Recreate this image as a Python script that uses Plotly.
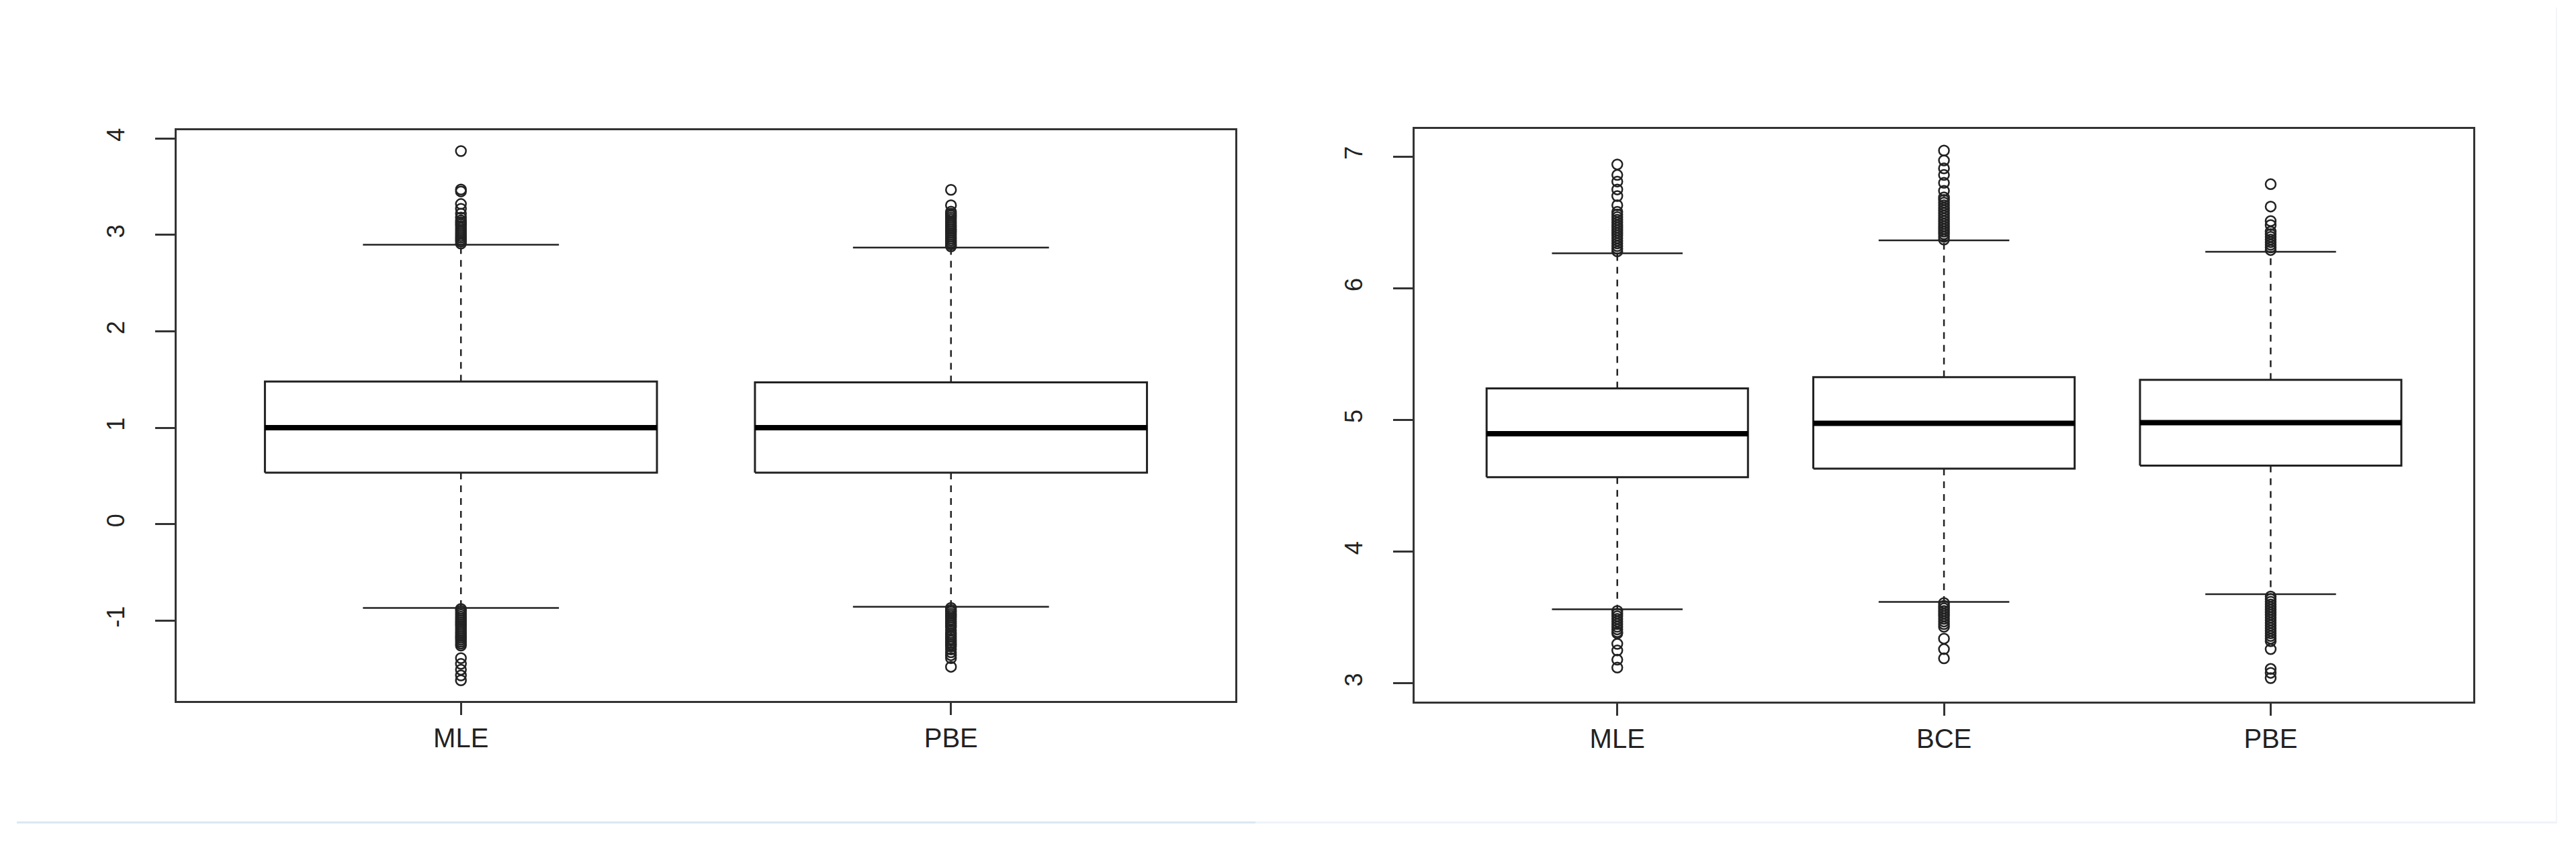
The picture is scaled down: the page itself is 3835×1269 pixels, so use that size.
import plotly.graph_objects as go

# left panel: two estimators
left_cats = ["MLE", "PBE"]
left_q1 = [0.533, 0.533]
left_med = [1.0, 1.0]
left_q3 = [1.479, 1.470]
left_lo = [-0.870, -0.858]
left_hi = [2.898, 2.868]
left_out = [
    [3.869, 3.47, 3.45, 3.32, 3.27, 3.22, 3.18, 3.15, 3.13, 3.11, 3.09, 3.07, 3.05,
     3.03, 3.01, 2.99, 2.97, 2.95, 2.93, 2.91,
     -0.88, -0.90, -0.92, -0.94, -0.96, -0.98, -1.00, -1.02, -1.04, -1.06, -1.08,
     -1.10, -1.12, -1.14, -1.16, -1.18, -1.20, -1.22, -1.24, -1.26,
     -1.39, -1.45, -1.51, -1.57, -1.62],
    [3.467, 3.307, 3.24, 3.22, 3.20, 3.18, 3.16, 3.14, 3.12, 3.10, 3.08, 3.06, 3.04,
     3.02, 3.00, 2.98, 2.96, 2.94, 2.92, 2.90, 2.88,
     -0.87, -0.89, -0.91, -0.93, -0.95, -0.97, -0.99, -1.01, -1.03, -1.05, -1.07,
     -1.10, -1.13, -1.15, -1.17, -1.19, -1.21, -1.23, -1.25, -1.27, -1.30, -1.33,
     -1.36, -1.39, -1.48],
]
left_ticks = [-1, 0, 1, 2, 3, 4]
left_ticktext = ["-1", "0", "1", "2", "3", "4"]

# right panel: three estimators
right_cats = ["MLE", "BCE", "PBE"]
right_q1 = [4.565, 4.630, 4.654]
right_med = [4.896, 4.975, 4.980]
right_q3 = [5.240, 5.325, 5.305]
right_lo = [3.563, 3.619, 3.677]
right_hi = [6.266, 6.364, 6.277]
right_out = [
    [6.28, 6.30, 6.32, 6.34, 6.36, 6.38, 6.40, 6.42, 6.44, 6.46, 6.48, 6.50, 6.52,
     6.54, 6.56, 6.58, 6.63, 6.70, 6.75, 6.81, 6.86, 6.94,
     3.55, 3.53, 3.51, 3.49, 3.47, 3.45, 3.43, 3.41, 3.39, 3.38, 3.30, 3.25, 3.18, 3.12],
    [6.37, 6.39, 6.41, 6.43, 6.45, 6.47, 6.49, 6.51, 6.53, 6.55, 6.57, 6.59, 6.61,
     6.63, 6.65, 6.67, 6.69, 6.74, 6.80, 6.86, 6.91, 6.97, 7.045,
     3.61, 3.59, 3.57, 3.55, 3.53, 3.51, 3.49, 3.47, 3.45, 3.43, 3.34, 3.26, 3.19],
    [6.29, 6.31, 6.33, 6.35, 6.37, 6.39, 6.41, 6.43, 6.48, 6.51, 6.62, 6.79,
     3.66, 3.64, 3.62, 3.60, 3.58, 3.56, 3.54, 3.52, 3.50, 3.48, 3.46, 3.44, 3.42,
     3.40, 3.38, 3.36, 3.34, 3.32, 3.26, 3.11, 3.08, 3.04],
]
right_ticks = [3, 4, 5, 6, 7]

ink = "#222222"
box_w = 0.8
cap_w = 0.4


def add_boxplot(fig, xa, ya, q1, med, q3, lo, hi, outs):
    for i in range(len(q1)):
        c = i + 1
        h = box_w / 2
        k = cap_w / 2
        # dashed whiskers
        fig.add_trace(go.Scatter(x=[c, c, None, c, c], y=[q3[i], hi[i], None, q1[i], lo[i]],
                                 mode="lines", line=dict(color=ink, width=2.5, dash="10px,9px"),
                                 xaxis=xa, yaxis=ya, hoverinfo="skip"))
        # staples
        fig.add_trace(go.Scatter(x=[c - k, c + k, None, c - k, c + k],
                                 y=[hi[i], hi[i], None, lo[i], lo[i]],
                                 mode="lines", line=dict(color=ink, width=2.5),
                                 xaxis=xa, yaxis=ya, hoverinfo="skip"))
        # box
        fig.add_trace(go.Scatter(x=[c - h, c + h, c + h, c - h, c - h],
                                 y=[q1[i], q1[i], q3[i], q3[i], q1[i]],
                                 mode="lines", line=dict(color=ink, width=3),
                                 xaxis=xa, yaxis=ya))
        # median
        fig.add_trace(go.Scatter(x=[c - h, c + h], y=[med[i], med[i]],
                                 mode="lines", line=dict(color="black", width=8),
                                 xaxis=xa, yaxis=ya))
        # outliers
        fig.add_trace(go.Scatter(x=[c] * len(outs[i]), y=outs[i], mode="markers",
                                 marker=dict(symbol="circle-open", size=15, color=ink,
                                             line=dict(width=2.5, color=ink)),
                                 xaxis=xa, yaxis=ya))


fig = go.Figure()
add_boxplot(fig, "x", "y", left_q1, left_med, left_q3, left_lo, left_hi, left_out)
add_boxplot(fig, "x2", "y2", right_q1, right_med, right_q3, right_lo, right_hi, right_out)

# the page body adds an 8px margin, so shift domains to compensate
W, H, off = 3835, 1269, 8
dx = off / W
dy = off / H

font = "Liberation Sans, Arial, sans-serif"
xcommon = dict(ticks="outside", ticklen=18, tickwidth=2.5, tickcolor="#333",
               showline=True, mirror=True, linecolor="#333", linewidth=3,
               showgrid=False, zeroline=False, ticklabelstandoff=0,
               tickfont=dict(family=font, size=40, color=ink))
ycommon = dict(ticks="outside", ticklen=29, tickwidth=2.5, tickcolor="#333",
               showline=True, mirror=True, linecolor="#333", linewidth=3,
               showgrid=False, zeroline=False, tickangle=-90, ticklabelstandoff=32,
               tickfont=dict(family=font, size=36, color=ink))

fig.update_layout(
    width=W, height=H,
    margin=dict(l=0, r=0, t=0, b=0),
    plot_bgcolor="white", paper_bgcolor="white",
    showlegend=False,
    xaxis=dict(domain=[0.0686 - dx, 0.4795 - dx], range=[0.42, 2.58], tickvals=[1, 2],
               ticktext=left_cats, anchor="y", **xcommon),
    yaxis=dict(domain=[0.1781 + dy, 0.8495 + dy], range=[-1.831, 4.088],
               tickvals=left_ticks, ticktext=left_ticktext, anchor="x", **ycommon),
    xaxis2=dict(domain=[0.5492 - dx, 0.9601 - dx], range=[0.38, 3.62], tickvals=[1, 2, 3],
                ticktext=right_cats, anchor="y2", **xcommon),
    yaxis2=dict(domain=[0.1773 + dy, 0.8511 + dy], range=[2.864, 7.212],
                tickvals=right_ticks, anchor="x2", **ycommon),
    shapes=[
        dict(type="line", xref="paper", yref="paper", x0=25 / W - dx, x1=1869 / W - dx,
             y0=0.0347 + dy, y1=0.0347 + dy, line=dict(color="#dbe6f1", width=3)),
        dict(type="line", xref="paper", yref="paper", x0=1869 / W - dx, x1=3807 / W - dx,
             y0=0.0347 + dy, y1=0.0347 + dy, line=dict(color="#eef3f9", width=3)),
        dict(type="line", xref="paper", yref="paper", x0=3806 / W - dx, x1=3806 / W - dx,
             y0=0.0347 + dy, y1=1, line=dict(color="#f3f5f8", width=2)),
    ],
)

fig.write_html("out.html")
